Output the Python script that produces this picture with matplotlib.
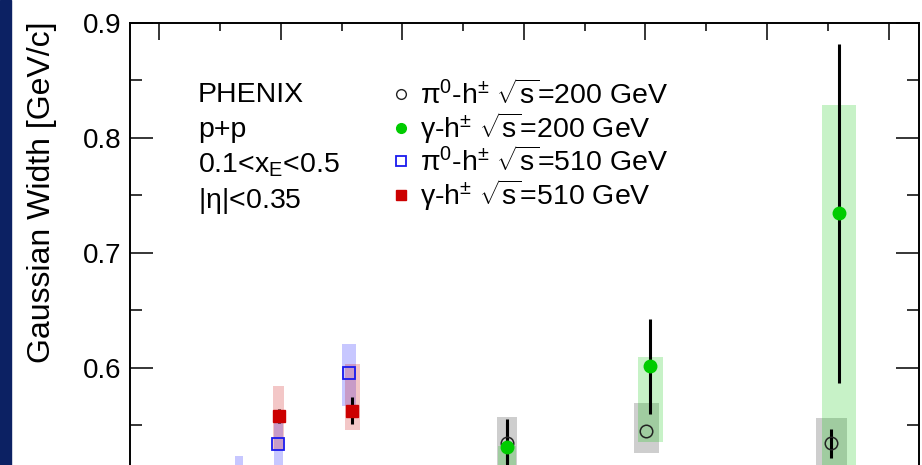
import matplotlib
matplotlib.use("Agg")
import matplotlib.pyplot as plt
from matplotlib.lines import Line2D
from matplotlib.patches import Rectangle
from matplotlib.ticker import MultipleLocator

plt.rcParams["font.family"] = ["Liberation Sans", "DejaVu Sans"]
plt.rcParams["mathtext.fontset"] = "custom"
plt.rcParams["mathtext.rm"] = "Liberation Sans"
plt.rcParams["mathtext.it"] = "Liberation Sans:italic"
plt.rcParams["mathtext.bf"] = "Liberation Sans:bold"
plt.rcParams["mathtext.sf"] = "Liberation Sans"

# pi0-h+-, sqrt(s) = 200 GeV (open circles)
pi200_x = [9.72, 12.01, 15.06]
pi200_y = [0.535, 0.5455, 0.5345]
pi200_stat = [0.0174, 0.0, 0.0126]
pi200_sys_lo = [0.022, 0.0192, 0.022]
pi200_sys_hi = [0.022, 0.0243, 0.0218]
pi200_bin = [0.165, 0.206, 0.26]

# gamma-h+-, sqrt(s) = 200 GeV (green dots)
gam200_x = [9.72, 12.08, 15.18]
gam200_y = [0.531, 0.6017, 0.7345]
gam200_stat = [0.025, 0.0413, 0.1475]
gam200_sys_lo = [0.04, 0.0658, 0.25]
gam200_sys_hi = [0.001, 0.0076, 0.0942]
gam200_bin = [0.15, 0.206, 0.28]

# pi0-h+-, sqrt(s) = 510 GeV (open blue squares)
pi510_x = [5.31, 5.96, 7.13]
pi510_y = [0.505, 0.5339, 0.596]
pi510_stat = [0.0, 0.0, 0.0]
pi510_sys_lo = [0.02, 0.025, 0.029]
pi510_sys_hi = [0.0185, 0.018, 0.0249]
pi510_bin = [0.066, 0.077, 0.115]

# gamma-h+-, sqrt(s) = 510 GeV (red squares)
gam510_x = [5.965, 7.18]
gam510_y = [0.5583, 0.5629]
gam510_stat = [0.006, 0.0115]
gam510_sys_lo = [0.03, 0.0168]
gam510_sys_hi = [0.026, 0.0403]
gam510_bin = [0.088, 0.123]

y_ticks = [0.6, 0.7, 0.8, 0.9]

labels = [
    r"$\mathrm{\pi^{0}}$-h$^{\pm}$ $\sqrt{\mathrm{s}}$=200 GeV",
    r"$\mathrm{\gamma}$-h$^{\pm}$ $\sqrt{\mathrm{s}}$=200 GeV",
    r"$\mathrm{\pi^{0}}$-h$^{\pm}$ $\sqrt{\mathrm{s}}$=510 GeV",
    r"$\mathrm{\gamma}$-h$^{\pm}$ $\sqrt{\mathrm{s}}$=510 GeV",
]
info_lines = ["PHENIX", "p+p", r"0.1<x$_{\mathrm{E}}$<0.5", r"|$\mathrm{\eta}$|<0.35"]

W, H = 922, 465
fig = plt.figure(figsize=(W / 100, H / 100), dpi=100)
# axes: left spine at x=130 px, top at y=23 px, bottom runs off the picture
ax = fig.add_axes([130 / W, -18 / H, 789 / W, 460 / H])


def px_to_axes(xp, yp):
    return (xp - 130) / 789, (483 - yp) / 460


def draw_series(x, y, stat, lo, hi, half, box_color, z, **mk):
    bottoms = [v - l for v, l in zip(y, lo)]
    heights = [l + h for l, h in zip(lo, hi)]
    widths = [2 * w for w in half]
    ax.bar(x, heights, width=widths, bottom=bottoms, color=box_color,
           alpha=0.22, linewidth=0, zorder=1)
    ax.errorbar(x, y, yerr=stat, fmt="none", ecolor="black",
                elinewidth=2.2, capsize=0, zorder=2)
    ax.plot(x, y, linestyle="none", zorder=z, **mk)


draw_series(pi200_x, pi200_y, pi200_stat, pi200_sys_lo, pi200_sys_hi, pi200_bin,
            "#222222", 3, marker="o", ms=9, mfc="none", mec="#222222", mew=1.1)
draw_series(gam200_x, gam200_y, gam200_stat, gam200_sys_lo, gam200_sys_hi, gam200_bin,
            "#00c800", 4, marker="o", ms=9, mfc="#00cc00", mec="#00cc00")
draw_series(pi510_x, pi510_y, pi510_stat, pi510_sys_lo, pi510_sys_hi, pi510_bin,
            "#0000ff", 3, marker="s", ms=8.3, mfc="none", mec="#1a1aee", mew=1.3)
draw_series(gam510_x, gam510_y, gam510_stat, gam510_sys_lo, gam510_sys_hi, gam510_bin,
            "#cc0000", 4, marker="s", ms=9, mfc="#cc0000", mec="#cc0000")

ax.set_xlim(3.52, 16.5)
ax.set_ylim(0.5, 0.9)
ax.xaxis.set_major_locator(MultipleLocator(2))
ax.xaxis.set_minor_locator(MultipleLocator(1))
ax.set_yticks(y_ticks)
ax.yaxis.set_minor_locator(MultipleLocator(0.05))
ax.tick_params(which="both", direction="in", top=True, right=True, width=1.1)
ax.tick_params(axis="y", which="major", length=16.5, labelsize=20, pad=6)
ax.tick_params(axis="y", which="minor", length=8.6)
ax.tick_params(axis="x", which="major", length=12, labelbottom=False)
ax.tick_params(axis="x", which="minor", length=6)
for s in ax.spines.values():
    s.set_linewidth(1.4)

ax.set_ylabel("Gaussian Width [GeV/c]", fontsize=23)
ax.yaxis.set_label_coords(-0.093, 0.6315)

# info block
tx, _ = px_to_axes(198, 0)
for i, line in enumerate(info_lines):
    _, ty = px_to_axes(0, 101.7 + 35.5 * i)
    ax.text(tx, ty, line, transform=ax.transAxes, fontsize=20.5, va="baseline", ha="left")

handles = [
    Line2D([], [], ls="none", marker="o", ms=7, mfc="none", mec="#222222", mew=1.0),
    Line2D([], [], ls="none", marker="o", ms=7, mfc="#00cc00", mec="#00cc00"),
    Line2D([], [], ls="none", marker="s", ms=6.5, mfc="none", mec="#1a1aee", mew=1.3),
    Line2D([], [], ls="none", marker="s", ms=6.5, mfc="#cc0000", mec="#cc0000"),
]
lx, ly = px_to_axes(390, 80)
ax.legend(handles, labels, loc="upper left", bbox_to_anchor=(lx, ly), frameon=False,
          fontsize=20.5, borderpad=0, borderaxespad=0, handlelength=0.75,
          handletextpad=0.3, labelspacing=0.02)

# dark strip at the left edge of the slide
fig.add_artist(Rectangle((0, 0), 11 / W, 1, transform=fig.transFigure,
                         color="#0c2163", zorder=10))

fig.savefig("out.png", dpi=100)
